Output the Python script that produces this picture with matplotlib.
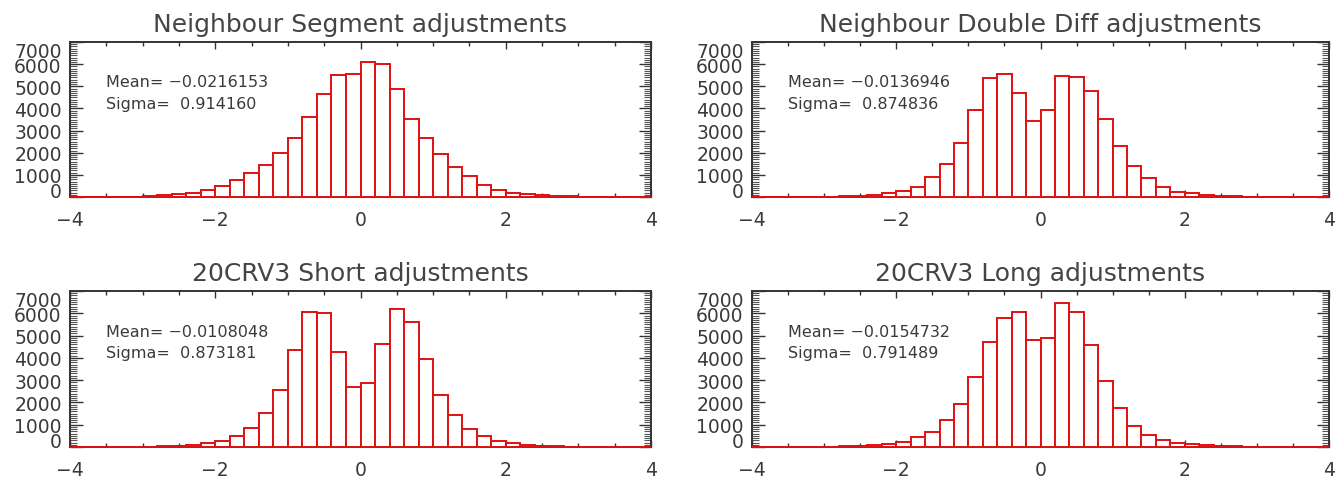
import matplotlib
matplotlib.use("Agg")
import matplotlib.pyplot as plt
from matplotlib.ticker import MultipleLocator
import numpy as np

# ---- data ----
bin_left_edges = [round(-4 + 0.2 * i, 1) for i in range(40)]
bin_width = 0.2

titles = ["Neighbour Segment adjustments", "Neighbour Double Diff adjustments",
          "20CRV3 Short adjustments", "20CRV3 Long adjustments"]
means = ["-0.0216153", "-0.0136946", "-0.0108048", "-0.0154732"]
sigmas = ["0.914160", "0.874836", "0.873181", "0.791489"]

counts_segment = [2, 3, 4, 8, 15, 35, 70, 120, 180, 330,
                  480, 770, 1090, 1460, 2000, 2680, 3600, 4630, 5500, 5570,
                  6110, 6020, 4900, 3540, 2670, 1960, 1340, 950, 540, 320,
                  190, 140, 90, 55, 30, 15, 8, 5, 3, 2]
counts_doublediff = [1, 1, 2, 3, 6, 12, 25, 50, 90, 165,
                     260, 470, 890, 1490, 2430, 3950, 5380, 5570, 4680, 3440,
                     3940, 5470, 5400, 4770, 3510, 2310, 1390, 845, 470, 240,
                     165, 100, 55, 30, 15, 8, 4, 2, 1, 1]
counts_short = [1, 2, 3, 5, 8, 15, 30, 60, 90, 165,
                270, 480, 840, 1510, 2580, 4340, 6070, 6010, 4280, 2670,
                2880, 4610, 6190, 5630, 3930, 2330, 1430, 800, 480, 270,
                165, 100, 55, 30, 15, 8, 4, 2, 1, 1]
counts_long = [1, 2, 3, 5, 8, 15, 30, 60, 90, 150,
               230, 470, 680, 1220, 1910, 3150, 4690, 5790, 6050, 4780,
               4900, 6440, 6050, 4570, 2950, 1750, 950, 560, 300, 180,
               120, 80, 45, 25, 12, 6, 3, 2, 1, 1]

all_counts = [counts_segment, counts_doublediff, counts_short, counts_long]
x_ticks = [-4, -2, 0, 2, 4]
x_ticklabels = ["\u22124", "\u22122", "0", "2", "4"]
y_ticks = [0, 1000, 2000, 3000, 4000, 5000, 6000, 7000]

# ---- layout ----
W, H = 1343, 481
fig = plt.figure(figsize=(W / 100, H / 100), dpi=100)
fig.patch.set_facecolor("white")

# (left, right, top, bottom) in pixels
boxes = [(70, 651, 43, 198), (752, 1329, 43, 198),
         (70, 651, 292, 448), (752, 1329, 292, 448)]

text_col = "#3a3a3a"
axis_col = "#333333"
red = "#e01010"

for k, (l, r, t, b) in enumerate(boxes):
    ax = fig.add_axes([l / W, 1 - b / H, (r - l) / W, (b - t) / H])
    ax.bar(bin_left_edges, all_counts[k], width=bin_width, align="edge",
           facecolor="white", edgecolor=red, linewidth=1.4, zorder=3, clip_on=False)
    ax.set_xlim(-4, 4)
    ax.set_ylim(0, 7000)

    for s in ax.spines.values():
        s.set_color(axis_col)
        s.set_linewidth(1.4)

    ax.set_xticks(x_ticks)
    ax.set_xticklabels(x_ticklabels)
    ax.xaxis.set_minor_locator(MultipleLocator(0.5))
    ax.set_yticks(y_ticks)
    ax.set_yticklabels([str(v) for v in y_ticks])
    ax.yaxis.set_minor_locator(MultipleLocator(100))

    ax.tick_params(axis="x", which="major", direction="in", top=True, bottom=True,
                   length=5, width=1.0, color=axis_col, labelsize=13.5,
                   labelcolor=text_col, pad=9)
    ax.tick_params(axis="x", which="minor", direction="in", top=True, bottom=True,
                   length=3, width=1.0, color=axis_col)
    ax.tick_params(axis="y", which="major", direction="in", left=True, right=True,
                   length=9, width=1.0, color=axis_col, labelsize=13.5,
                   labelcolor=text_col, pad=6)
    ax.tick_params(axis="y", which="minor", direction="in", left=True, right=True,
                   length=5, width=0.8, color="#555555")

    ylabels = ax.get_yticklabels()
    ylabels[0].set_va("baseline")
    ylabels[-1].set_va("top")

    ax.text(0.5, 1 + 11 / (b - t), titles[k], transform=ax.transAxes,
            ha="center", va="baseline", fontsize=18, color="#444444")
    ax.text(0.062, 0.714, "Mean= " + means[k].replace("-", "\u2212"),
            transform=ax.transAxes, ha="left", va="baseline",
            fontsize=11.5, color=text_col)
    ax.text(0.062, 0.576, "Sigma=  " + sigmas[k], transform=ax.transAxes,
            ha="left", va="baseline", fontsize=11.5, color=text_col)

fig.savefig("out.png", dpi=100, facecolor="white")
